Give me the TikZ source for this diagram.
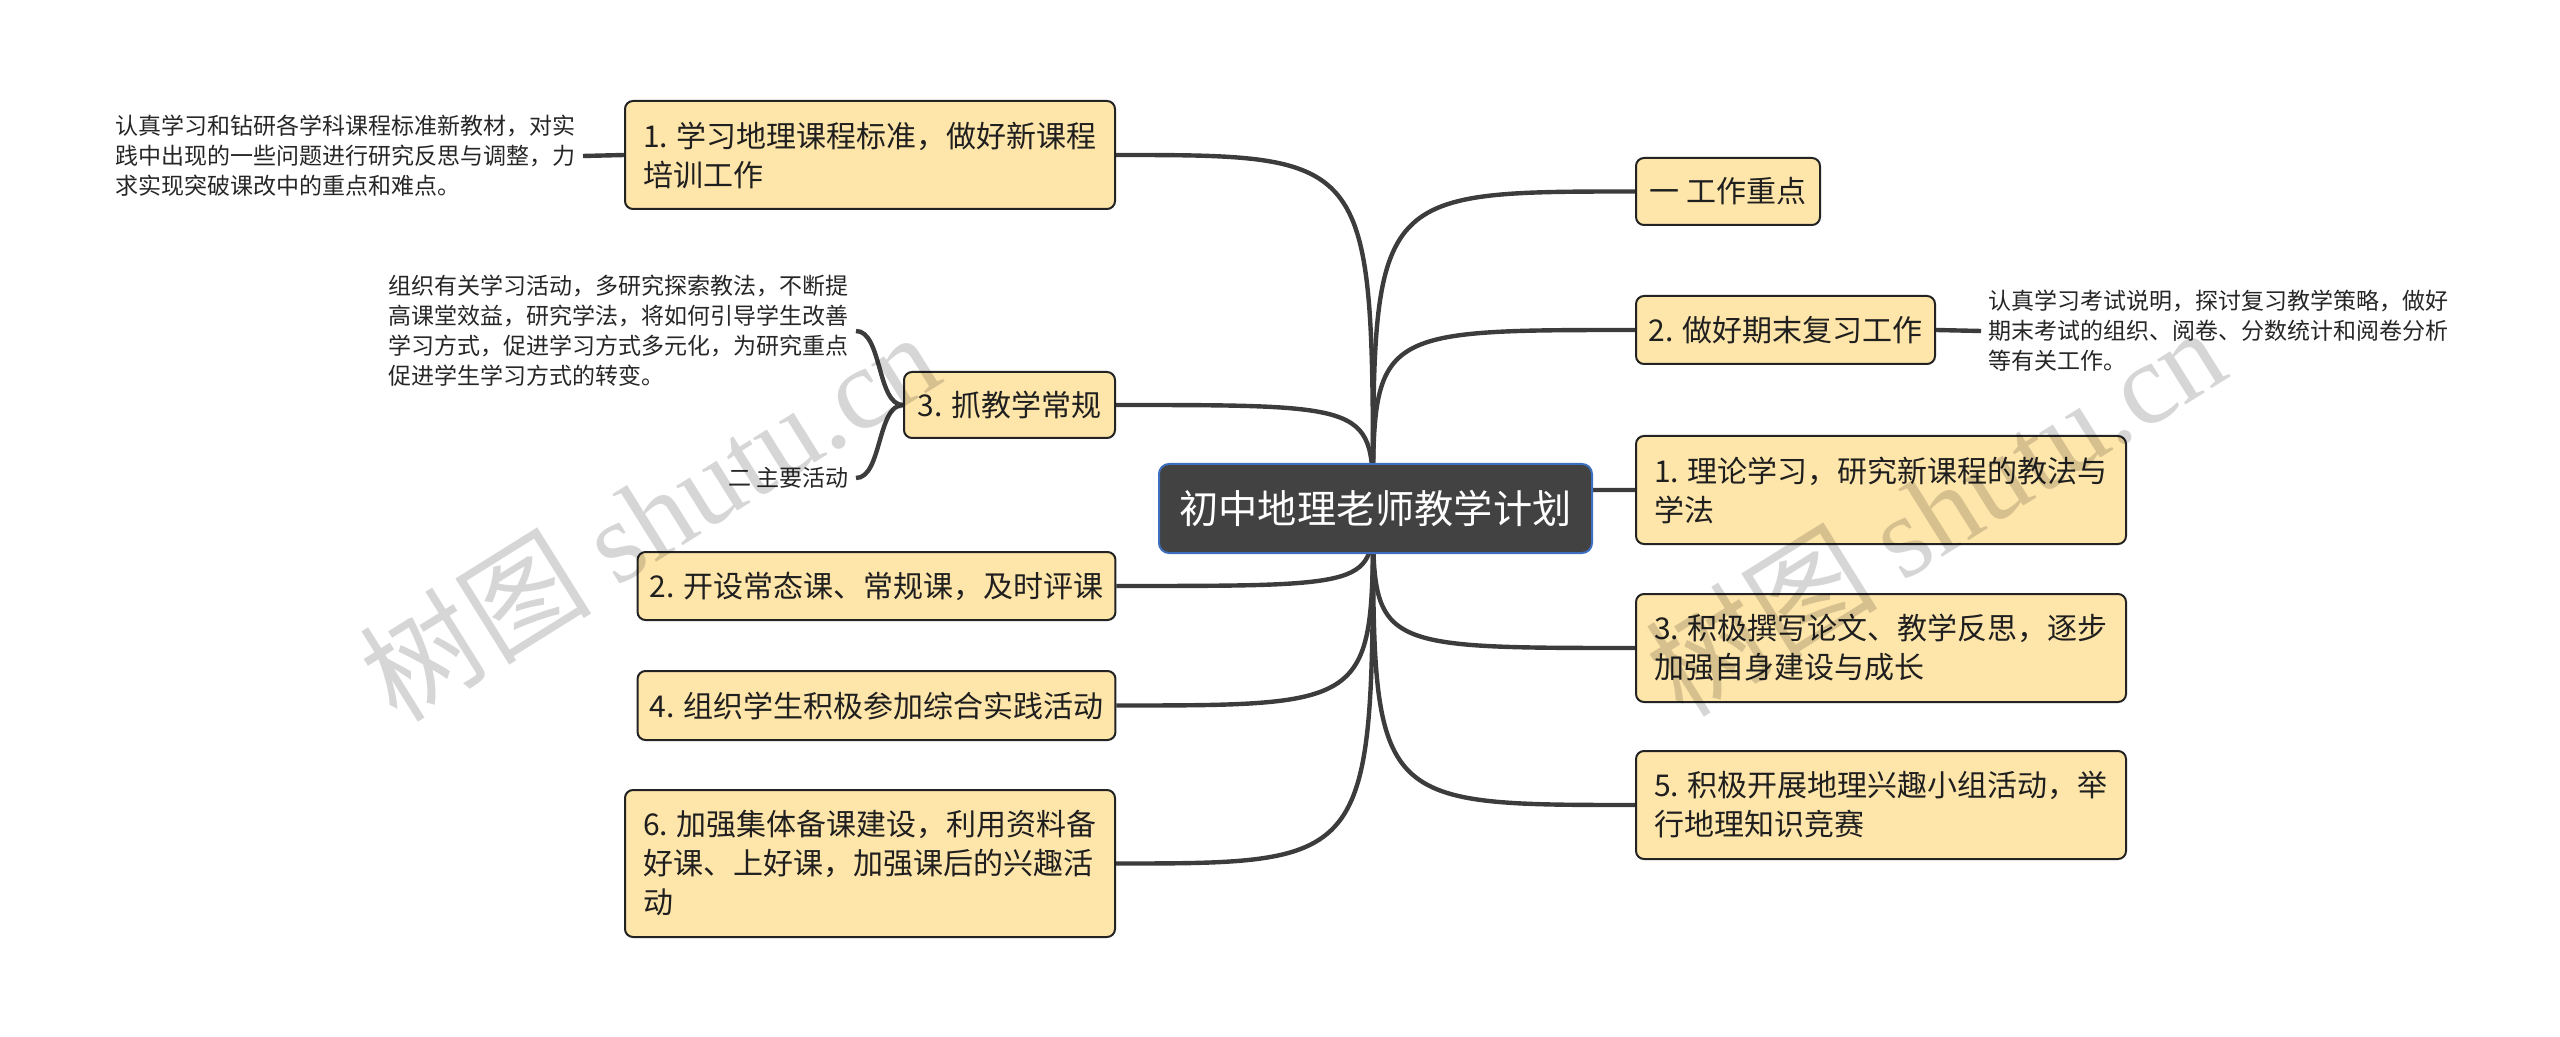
\documentclass[tikz,border=0pt]{standalone}
\usepackage{fontspec}
\setmainfont{Noto Sans CJK SC}
\newfontfamily\wmserif{Liberation Serif}
\usetikzlibrary{backgrounds}
\definecolor{boxfill}{RGB}{254,229,170}
\definecolor{boxline}{RGB}{35,35,35}
\definecolor{linec}{RGB}{60,60,60}
\definecolor{rootfill}{RGB}{66,66,66}
\definecolor{rootline}{RGB}{62,110,190}
\begin{document}
\begin{tikzpicture}[x=0.5pt,y=-0.5pt,
  topic/.style={draw=boxline, line width=1pt, fill=boxfill, rounded corners=4pt,
    align=left, font=\fontsize{15}{19.5}\selectfont, inner xsep=6pt, inner ysep=0pt, text=black!88},
  root/.style={draw=rootline, line width=1pt, fill=rootfill, rounded corners=5pt,
    font=\fontsize{19.6}{24}\selectfont, text=white, inner sep=0pt},
  note/.style={align=left, font=\fontsize{11.5}{15}\selectfont, inner xsep=3.5pt, inner ysep=0pt, text=black!85},
  conn/.style={draw=linec, line width=2.2pt},
  wm/.style={text=black, opacity=0.16, rotate=32, inner sep=0pt}]
\useasboundingbox (0,0) rectangle (2560,1037);

% root
\node[root, minimum width=216.5pt, minimum height=44.5pt] (c) at (1375.5,508.5) {初中地理老师教学计划};
\coordinate (o) at (1373,508);

% left topics
\node[topic, minimum width=245pt, minimum height=54pt] (l1) at (870,155) {1. 学习地理课程标准，做好新课程\\培训工作};
\node[topic, minimum width=105.5pt, minimum height=33pt] (l3) at (1009.5,405) {3. 抓教学常规};
\node[topic, minimum width=238.5pt, minimum height=34pt] (l2) at (876.5,586) {2. 开设常态课、常规课，及时评课};
\node[topic, minimum width=238.5pt, minimum height=34.5pt] (l4) at (876.5,705.5) {4. 组织学生积极参加综合实践活动};
\node[topic, minimum width=245pt, minimum height=73.5pt] (l6) at (870,863.5) {6. 加强集体备课建设，利用资料备\\好课、上好课，加强课后的兴趣活\\动};

% right topics
\node[topic, minimum width=92pt, minimum height=33.5pt] (r0) at (1728,191.5) {一 工作重点};
\node[topic, minimum width=149.5pt, minimum height=34pt] (r2) at (1785.5,330) {2. 做好期末复习工作};
\node[topic, minimum width=245pt, minimum height=54pt] (r1) at (1881,490) {1. 理论学习，研究新课程的教法与\\学法};
\node[topic, minimum width=245pt, minimum height=54pt] (r3) at (1881,648) {3. 积极撰写论文、教学反思，逐步\\加强自身建设与成长};
\node[topic, minimum width=245pt, minimum height=54pt] (r5) at (1881,805) {5. 积极开展地理兴趣小组活动，举\\行地理知识竞赛};

% notes
\node[note, anchor=east] (n1) at (583,156) {认真学习和钻研各学科课程标准新教材，对实\\践中出现的一些问题进行研究反思与调整，力\\求实现突破课改中的重点和难点。};
\node[note, anchor=east] (n2) at (856,331) {组织有关学习活动，多研究探索教法，不断提\\高课堂效益，研究学法，将如何引导学生改善\\学习方式，促进学习方式多元化，为研究重点\\促进学生学习方式的转变。};
\node[note, anchor=east] (n3) at (856,478) {二 主要活动};
\node[note, anchor=west] (n4) at (1981,331) {认真学习考试说明，探讨复习教学策略，做好\\期末考试的组织、阅卷、分数统计和阅卷分析\\等有关工作。};

\begin{scope}[on background layer]
  \foreach \t in {l1,l3,l2,l4,l6}
    \draw[conn] (o) .. controls (o |- \t.east) .. (\t.east);
  \foreach \t in {r0,r2,r1,r3,r5}
    \draw[conn] (o) .. controls (o |- \t.west) .. (\t.west);
\end{scope}

\draw[conn] (n1.east) -- (l1.west);
\draw[conn] (r2.east) -- (n4.west);
\draw[conn] (l3.west) .. controls +(-26,0) and +(26,0) .. (n2.east);
\draw[conn] (l3.west) .. controls +(-26,0) and +(26,0) .. (n3.east);

% watermarks
\node[wm] (wm1) at (649,515) {\fontsize{58}{58}\selectfont 树图 {\wmserif shutu.cn}};
\node[wm] (wm2) at (1935,510) {\fontsize{58}{58}\selectfont 树图 {\wmserif shutu.cn}};
\end{tikzpicture}
\end{document}
